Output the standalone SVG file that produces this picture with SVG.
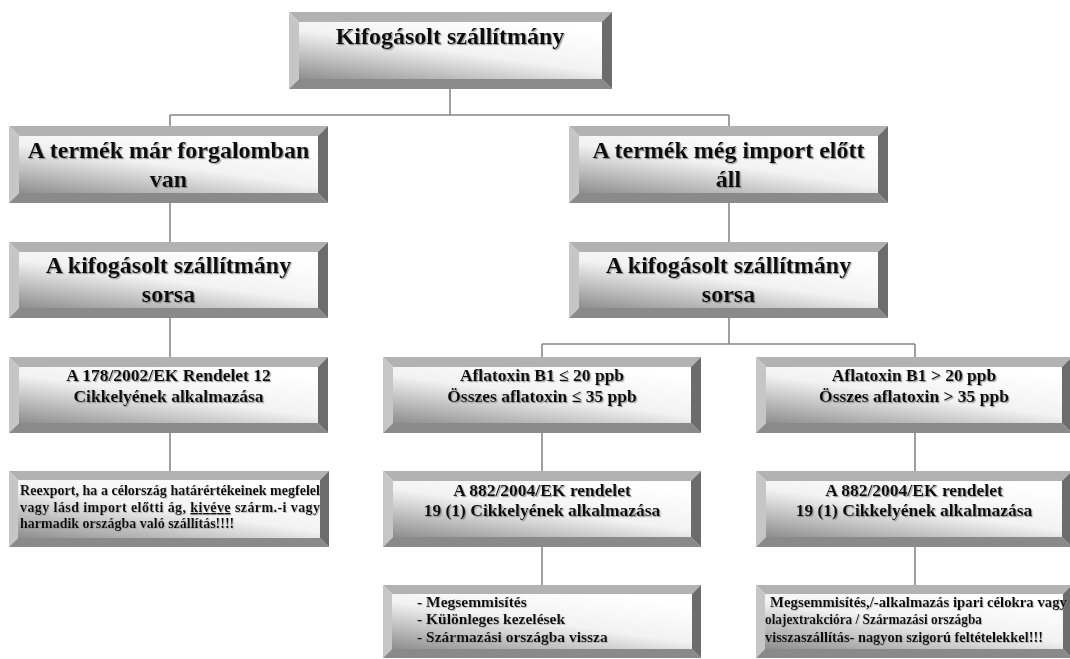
<svg xmlns="http://www.w3.org/2000/svg" width="1070" height="659" viewBox="0 0 1070 659">
<defs>
<linearGradient id="face" x1="0" y1="1" x2="0.75" y2="0">
<stop offset="0" stop-color="#8e8e8e"/>
<stop offset="0.55" stop-color="#f2f2f2"/>
<stop offset="1" stop-color="#ffffff"/>
</linearGradient>
<filter id="sh" x="-5%" y="-20%" width="110%" height="140%">
<feDropShadow dx="1.2" dy="1.2" stdDeviation="0.7" flood-color="#777" flood-opacity="0.7"/>
</filter>
<filter id="sh2" x="-5%" y="-20%" width="110%" height="140%">
<feDropShadow dx="0.8" dy="0.8" stdDeviation="0.5" flood-color="#888" flood-opacity="0.6"/>
</filter>
</defs>
<style>
.bt{fill:#b2b2b2}
.bl{fill:#c6c6c6}
.bb{fill:#8a8a8a}
.br{fill:#6c6c6c}
.fc{fill:url(#face)}
text{font-family:"Liberation Serif","Times New Roman",serif;font-weight:bold;fill:#111}
.t24{font-size:24px;text-anchor:middle;filter:url(#sh)}
.t17{font-size:17.5px;text-anchor:middle;filter:url(#sh)}
.t15{font-size:15.5px;filter:url(#sh2)}
.t14{font-size:14px;filter:url(#sh2)}
.con{fill:none;stroke:#888;stroke-width:1.6}
</style>
<rect width="1070" height="659" fill="#fff"/>

<g id="connectors">
<path class="con" d="M450,89V115M170,115H729M170,115V126M729,115V126"/>
<path class="con" d="M170,203V242M729,203V242"/>
<path class="con" d="M170,318V357M729,318V344M542,344H915M542,344V357M915,344V357"/>
<path class="con" d="M170,433V471M542,433V471M915,433V471"/>
<path class="con" d="M542,547V585M915,547V585"/>
</g>

<g id="n-root">
<polygon class="bt" points="289,12 612,12 602,22 299,22"/>
<polygon class="bl" points="289,12 299,22 299,79 289,89"/>
<polygon class="bb" points="289,89 299,79 602,79 612,89"/>
<polygon class="br" points="612,12 612,89 602,79 602,22"/>
<rect class="fc" x="299" y="22" width="303" height="57"/>
<text class="t24" x="450" y="44">Kifogásolt szállítmány</text>
</g>

<g id="n-forgalom">
<polygon class="bt" points="9,126 328,126 318,136 19,136"/>
<polygon class="bl" points="9,126 19,136 19,193 9,203"/>
<polygon class="bb" points="9,203 19,193 318,193 328,203"/>
<polygon class="br" points="328,126 328,203 318,193 318,136"/>
<rect class="fc" x="19" y="136" width="299" height="57"/>
<text class="t24" x="168.5" y="158">A termék már forgalomban</text>
<text class="t24" x="168.5" y="187">van</text>
</g>

<g id="n-import">
<polygon class="bt" points="569,126 888,126 878,136 579,136"/>
<polygon class="bl" points="569,126 579,136 579,193 569,203"/>
<polygon class="bb" points="569,203 579,193 878,193 888,203"/>
<polygon class="br" points="888,126 888,203 878,193 878,136"/>
<rect class="fc" x="579" y="136" width="299" height="57"/>
<text class="t24" x="728.5" y="158">A termék még import előtt</text>
<text class="t24" x="728.5" y="187">áll</text>
</g>

<g id="n-sors-left">
<polygon class="bt" points="9,242 328,242 318,252 19,252"/>
<polygon class="bl" points="9,242 19,252 19,308 9,318"/>
<polygon class="bb" points="9,318 19,308 318,308 328,318"/>
<polygon class="br" points="328,242 328,318 318,308 318,252"/>
<rect class="fc" x="19" y="252" width="299" height="56"/>
<text class="t24" x="168.5" y="273">A kifogásolt szállítmány</text>
<text class="t24" x="168.5" y="302">sorsa</text>
</g>

<g id="n-sors-right">
<polygon class="bt" points="569,242 888,242 878,252 579,252"/>
<polygon class="bl" points="569,242 579,252 579,308 569,318"/>
<polygon class="bb" points="569,318 579,308 878,308 888,318"/>
<polygon class="br" points="888,242 888,318 878,308 878,252"/>
<rect class="fc" x="579" y="252" width="299" height="56"/>
<text class="t24" x="728.5" y="273">A kifogásolt szállítmány</text>
<text class="t24" x="728.5" y="302">sorsa</text>
</g>

<g id="n-178">
<polygon class="bt" points="9,357 328,357 318,367 19,367"/>
<polygon class="bl" points="9,357 19,367 19,423 9,433"/>
<polygon class="bb" points="9,433 19,423 318,423 328,433"/>
<polygon class="br" points="328,357 328,433 318,423 318,367"/>
<rect class="fc" x="19" y="367" width="299" height="56"/>
<text class="t17" x="168.5" y="381">A 178/2002/EK Rendelet 12</text>
<text class="t17" x="168.5" y="402">Cikkelyének alkalmazása</text>
</g>

<g id="n-low">
<polygon class="bt" points="383,357 701,357 691,367 393,367"/>
<polygon class="bl" points="383,357 393,367 393,423 383,433"/>
<polygon class="bb" points="383,433 393,423 691,423 701,433"/>
<polygon class="br" points="701,357 701,433 691,423 691,367"/>
<rect class="fc" x="393" y="367" width="298" height="56"/>
<text class="t17" x="542" y="381">Aflatoxin B1 ≤ 20 ppb</text>
<text class="t17" x="542" y="402">Összes aflatoxin ≤ 35 ppb</text>
</g>

<g id="n-high">
<polygon class="bt" points="756,357 1072,357 1062,367 766,367"/>
<polygon class="bl" points="756,357 766,367 766,423 756,433"/>
<polygon class="bb" points="756,433 766,423 1062,423 1072,433"/>
<polygon class="br" points="1072,357 1072,433 1062,423 1062,367"/>
<rect class="fc" x="766" y="367" width="296" height="56"/>
<text class="t17" x="914" y="381">Aflatoxin B1 &gt; 20 ppb</text>
<text class="t17" x="914" y="402">Összes aflatoxin &gt; 35 ppb</text>
</g>

<g id="n-reexport">
<polygon class="bt" points="9,471 329,471 320,480 18,480"/>
<polygon class="bl" points="9,471 18,480 18,538 9,547"/>
<polygon class="bb" points="9,547 18,538 320,538 329,547"/>
<polygon class="br" points="329,471 329,547 320,538 320,480"/>
<rect class="fc" x="18" y="480" width="302" height="58"/>
<text class="t14" x="20" y="495" textLength="300" lengthAdjust="spacing">Reexport, ha a célország határértékeinek megfelel</text>
<text class="t14" x="20" y="512" textLength="300" lengthAdjust="spacing">vagy lásd import előtti ág, <tspan text-decoration="underline">kivéve</tspan> szárm.-i vagy</text>
<text class="t14" x="20" y="528">harmadik országba való szállítás!!!!</text>
</g>

<g id="n-882-low">
<polygon class="bt" points="383,471 701,471 691,481 393,481"/>
<polygon class="bl" points="383,471 393,481 393,537 383,547"/>
<polygon class="bb" points="383,547 393,537 691,537 701,547"/>
<polygon class="br" points="701,471 701,547 691,537 691,481"/>
<rect class="fc" x="393" y="481" width="298" height="56"/>
<text class="t17" x="542" y="496">A 882/2004/EK rendelet</text>
<text class="t17" x="542" y="516">19 (1)  Cikkelyének alkalmazása</text>
</g>

<g id="n-882-high">
<polygon class="bt" points="756,471 1072,471 1062,481 766,481"/>
<polygon class="bl" points="756,471 766,481 766,537 756,547"/>
<polygon class="bb" points="756,547 766,537 1062,537 1072,547"/>
<polygon class="br" points="1072,471 1072,547 1062,537 1062,481"/>
<rect class="fc" x="766" y="481" width="296" height="56"/>
<text class="t17" x="914" y="496">A 882/2004/EK rendelet</text>
<text class="t17" x="914" y="516">19 (1)  Cikkelyének alkalmazása</text>
</g>

<g id="n-measures-low">
<polygon class="bt" points="383,585 701,585 692,594 392,594"/>
<polygon class="bl" points="383,585 392,594 392,649 383,658"/>
<polygon class="bb" points="383,658 392,649 692,649 701,658"/>
<polygon class="br" points="701,585 701,658 692,649 692,594"/>
<rect class="fc" x="392" y="594" width="300" height="55"/>
<text class="t15" x="417" y="607">- Megsemmisítés</text>
<text class="t15" x="417" y="624">- Különleges kezelések</text>
<text class="t15" x="417" y="642">- Származási országba vissza</text>
</g>

<g id="n-measures-high">
<polygon class="bt" points="756,585 1072,585 1063,594 765,594"/>
<polygon class="bl" points="756,585 765,594 765,649 756,658"/>
<polygon class="bb" points="756,658 765,649 1063,649 1072,658"/>
<polygon class="br" points="1072,585 1072,658 1063,649 1063,594"/>
<rect class="fc" x="765" y="594" width="298" height="55"/>
<text class="t14" x="770" y="607" textLength="297" lengthAdjust="spacingAndGlyphs">Megsemmisítés,/-alkalmazás ipari célokra vagy</text>
<text class="t14" x="765" y="624" textLength="217" lengthAdjust="spacingAndGlyphs">olajextrakcióra  / Származási országba</text>
<text class="t14" x="765" y="642" textLength="278" lengthAdjust="spacingAndGlyphs">visszaszállítás- nagyon szigorú feltételekkel!!!</text>
</g>
</svg>
